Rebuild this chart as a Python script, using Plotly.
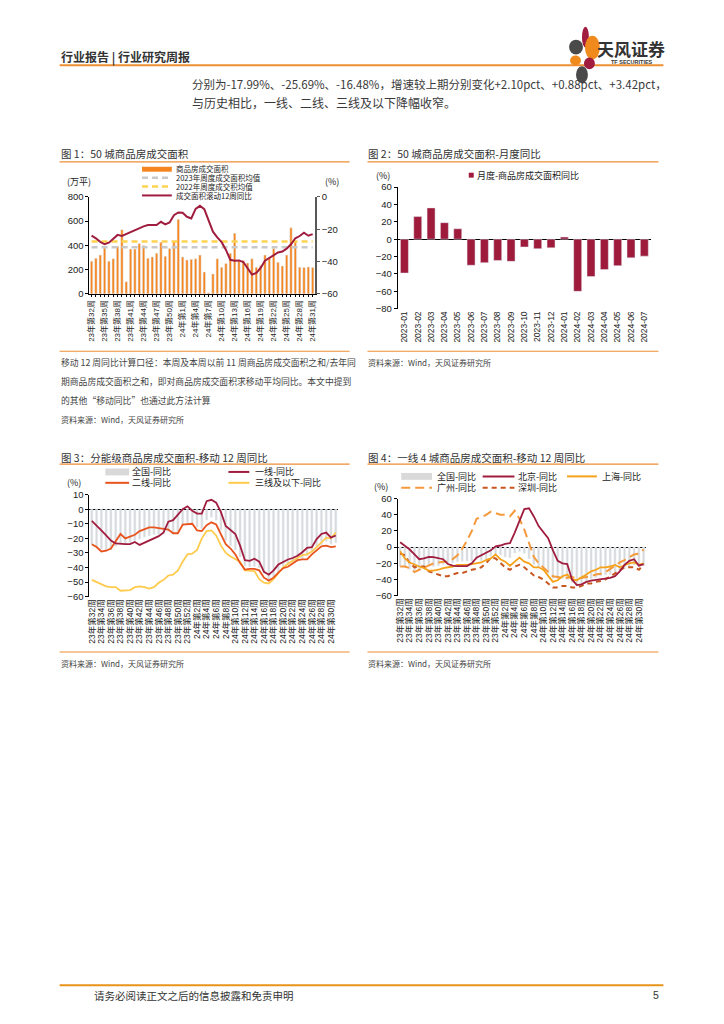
import plotly.graph_objects as go

W, H = 724, 1024
def px(x): return x / W
def py(y): return 1 - y / H

# ---------------- data ----------------
weeks_2023 = list(range(32, 53))
weeks_2024 = list(range(1, 32))
week_labels = [f"23年第{w}周" for w in weeks_2023] + [f"24年第{w}周" for w in weeks_2024]

area_weekly = [270, 295, 320, 380, 270, 290, 390, 530, 100, 370, 370, 415, 400, 295, 305, 335,
               425, 310, 375, 430, 615, 305, 280, 285, 290, 320, 180, 10, 165, 290, 220, 250,
               335, 500, 280, 275, 255, 290, 220, 235, 320, 295, 375, 260, 230, 320, 545, 430,
               220, 218, 222, 218]
avg_2023 = 385
avg_2022 = 432
yoy_rolling12 = [-24, -25.6, -27.8, -29.3, -28.3, -25.6, -23.5, -24.2, -23, -21.5, -20.5, -19.2,
                 -18.2, -17.4, -17.4, -17.4, -15.4, -17, -15.8, -11.3, -9.6, -9.8, -12.3, -13.3,
                 -7.4, -5.5, -7.6, -14.3, -21.5, -25, -28, -32.8, -38.9, -39.5, -39.3, -40.3,
                 -44, -48.1, -47.1, -44, -39.5, -37.9, -35.8, -34.4, -33.8, -32, -29.3, -25.6,
                 -24.2, -22.1, -24, -23]

months = ["2023-01", "2023-02", "2023-03", "2023-04", "2023-05", "2023-06", "2023-07",
          "2023-08", "2023-09", "2023-10", "2023-11", "2023-12", "2024-01", "2024-02",
          "2024-03", "2024-04", "2024-05", "2024-06", "2024-07"]
monthly_yoy = [-39, 26, 36, 19, 12, -30, -27, -24.5, -25.5, -9, -11, -10, 2.5, -60, -43, -35,
               -30.5, -21.5, -19.5]

national_yoy = [-24, -25.5, -27.5, -29, -28, -25.5, -23.5, -24, -23, -21.5, -20.5, -19.2,
                -18.2, -17.4, -17.4, -17.4, -15.4, -17, -15.8, -11.3, -9.6, -9.8, -12.3, -13.3,
                -7.4, -5.5, -7.6, -14.3, -21.5, -25, -28, -32.8, -38.9, -39.5, -39.3, -40.3,
                -44, -48, -47, -44, -39.5, -37.9, -35.8, -34.4, -33.8, -32, -29.3, -25.6,
                -24.2, -22.1, -24, -23]
tier1_yoy = [-8, -11, -14.5, -18, -21.5, -23.5, -24, -24, -24, -22.5, -24.5, -23, -21.5, -20,
             -18.5, -16, -8.5, -7.5, -4, 0, 2, -1, -3, -3, 5.5, 6.5, 4.5, -2, -11.5, -14, -17,
             -25, -35, -35.5, -34, -36, -43, -45, -42, -38, -36, -34.5, -33.5, -32, -29.5,
             -26.5, -26, -20.5, -17, -16, -19.5, -18]
tier2_yoy = [-24, -26, -29, -28.5, -27, -22, -17, -20, -18.5, -17.5, -15, -14, -12.5, -12.5,
             -13, -13.5, -14, -16.5, -16.5, -10.5, -10, -10, -14.5, -15, -11, -9, -10.5, -17,
             -24, -27, -31, -37, -41.5, -41, -41, -42, -47, -49, -47, -43.5, -40.5, -39.5, -37,
             -35, -34.5, -34.5, -31, -28, -25.5, -25, -26, -25.5]
tier3_yoy = [-48.5, -50, -52, -53, -53.5, -53.5, -56, -55.5, -55.5, -53.5, -53, -53.5, -54.5,
             -53.5, -50.5, -48.5, -45.5, -45, -42, -36, -31, -30.5, -28, -20, -15, -14.5, -18,
             -25, -30, -32.5, -34, -36, -42, -42.5, -42.5, -48, -50.5, -51, -48, -44, -40,
             -37.5, -35.5, -33, -31.5, -31, -29, -26, -23, -19.5, -20, -16]

beijing_yoy = [6, 2, -3, -9, -15, -14, -12, -12.5, -14, -15, -21, -23, -23.5, -23.5, -23.5, -20,
               -13, -10, -7, -4, 1, 2, 4, 5, 18, 33, 47, 48, 38, 26, 18, 11, -4, -17, -20, -21,
               -40, -47, -46, -43, -41.5, -40.5, -40, -39, -38, -36, -30, -22, -17, -15, -23, -21]
shanghai_yoy = [-5, -14, -19, -22, -24, -26, -29, -29, -28, -26, -25, -24, -22, -22, -22, -21,
                -20, -19, -16, -14, -9, -15, -18, -23, -18, -13, -18, -20, -25, -25, -28, -35,
                -43, -41, -36, -34, -40, -41, -38, -34, -30, -28, -25, -25, -24, -22, -25, -22,
                -20, -19, -22, -20]
guangzhou_yoy = [-24, -24, -26, -31, -28, -25, -22, -20, -19, -18, -18, -15, -10, -2, 8, 20, 35,
                 37, 40, 44, 42, 40, 40, 38, 45, 35, 22, 5, -12, -20, -25, -30, -36, -37, -38,
                 -38, -37, -39, -38, -37, -36, -34, -33, -31, -27, -22, -19, -16, -12, -9, -8, -3]
shenzhen_yoy = [-8, -10, -20, -25, -24, -24, -30, -32, -34, -36, -36, -34, -32, -32, -30, -28,
                -27, -25, -20, -13, -14, -20, -25, -28, -24, -22, -25, -30, -35, -37, -40, -45,
                -50, -50, -48, -48, -50, -50, -48, -45, -45, -43, -42, -40, -36, -32, -28, -25,
                -25, -25, -28, -22]

# ---------------- styles ----------------
CJK = "Noto Sans CJK SC"
NUM = "Liberation Sans, Noto Sans CJK SC"
ORANGE_RULE = "#EE8E35"
BAR_ORANGE = "#F5861F"
CRIMSON = "#A11D3F"
GRAY_BAR = "#D9D9D9"
RED_ORANGE = "#E8541E"
YELLOW = "#FFCB4C"
SH_ORANGE = "#F5A21A"
GZ_ORANGE = "#F59A3C"
SZ_BROWN = "#C8561E"

fig = go.Figure()

# Chart 1
fig.add_trace(go.Bar(x=week_labels, y=area_weekly, marker_color=BAR_ORANGE, width=0.55,
                     xaxis="x", yaxis="y"))
fig.add_trace(go.Scatter(x=week_labels, y=[avg_2023] * len(week_labels), mode="lines",
                         line=dict(color="#C9C9C9", width=2.5, dash="6px,4px"), xaxis="x", yaxis="y"))
fig.add_trace(go.Scatter(x=week_labels, y=[avg_2022] * len(week_labels), mode="lines",
                         line=dict(color="#FFD24F", width=2.5, dash="6px,4px"), xaxis="x", yaxis="y"))
fig.add_trace(go.Scatter(x=week_labels, y=yoy_rolling12, mode="lines",
                         line=dict(color=CRIMSON, width=2), xaxis="x", yaxis="y5"))

# Chart 2
fig.add_trace(go.Bar(x=months, y=monthly_yoy, marker_color="#9E1B3C", width=0.6,
                     xaxis="x2", yaxis="y2"))

# Chart 3
fig.add_trace(go.Bar(x=week_labels, y=national_yoy, marker_color=GRAY_BAR, width=0.45,
                     xaxis="x3", yaxis="y3"))
for ys, c in [(tier3_yoy, YELLOW), (tier2_yoy, RED_ORANGE), (tier1_yoy, CRIMSON)]:
    fig.add_trace(go.Scatter(x=week_labels, y=ys, mode="lines", line=dict(color=c, width=1.8),
                             xaxis="x3", yaxis="y3"))

# Chart 4
fig.add_trace(go.Bar(x=week_labels, y=national_yoy, marker_color=GRAY_BAR, width=0.45,
                     xaxis="x4", yaxis="y4"))
fig.add_trace(go.Scatter(x=week_labels, y=guangzhou_yoy, mode="lines",
                         line=dict(color=GZ_ORANGE, width=2, dash="9px,5px"), xaxis="x4", yaxis="y4"))
fig.add_trace(go.Scatter(x=week_labels, y=shenzhen_yoy, mode="lines",
                         line=dict(color=SZ_BROWN, width=2, dash="5px,4px"), xaxis="x4", yaxis="y4"))
fig.add_trace(go.Scatter(x=week_labels, y=shanghai_yoy, mode="lines",
                         line=dict(color=SH_ORANGE, width=1.8), xaxis="x4", yaxis="y4"))
fig.add_trace(go.Scatter(x=week_labels, y=beijing_yoy, mode="lines",
                         line=dict(color=CRIMSON, width=1.8), xaxis="x4", yaxis="y4"))

tick1 = [lab if i % 3 == 0 else "" for i, lab in enumerate(week_labels)]
tick2 = [lab if i % 2 == 0 else "" for i, lab in enumerate(week_labels)]

def xcat(domain, anchor, ticktext, size, ticks="outside", showline=True):
    return dict(domain=domain, anchor=anchor, type="category", tickmode="array",
                tickvals=week_labels, ticktext=ticktext, tickangle=-90,
                tickfont=dict(family=NUM, size=size, color="#222"),
                ticks=ticks, ticklen=2, tickcolor="#000", showline=showline,
                linecolor="#000", linewidth=1, showgrid=False, zeroline=False, fixedrange=True)

def yax(domain, anchor, rng, dtick, zeroline=False):
    return dict(domain=domain, anchor=anchor, range=rng, dtick=dtick, ticks="outside",
                ticklen=3, tickcolor="#000", showline=True, linecolor="#000", linewidth=1,
                showgrid=False, zeroline=zeroline, zerolinecolor="#000", zerolinewidth=1,
                tickfont=dict(family=NUM, size=9.5, color="#222"))

layout = dict(
    width=W, height=H, margin=dict(l=0, r=0, t=0, b=0), showlegend=False,
    paper_bgcolor="white", plot_bgcolor="rgba(0,0,0,0)", barmode="overlay",
    xaxis=xcat([px(87), px(314)], "y", tick1, 8),
    yaxis=yax([py(291), py(193)], "x", [0, 800], 200),
    yaxis5=dict(overlaying="y", side="right", anchor="x", range=[-60, 0], dtick=20,
                ticks="outside", ticklen=3, tickcolor="#595959", showline=True,
                linecolor="#595959", linewidth=2, showgrid=False, zeroline=False,
                tickfont=dict(family=NUM, size=9.5, color="#222")),
    xaxis2=dict(domain=[px(397.5), px(652.5)], anchor="y2", type="category", tickangle=-90,
                tickfont=dict(family=NUM, size=8.5, color="#222"), ticks="", showline=False,
                showgrid=False, zeroline=False),
    yaxis2=yax([py(306), py(183)], "x2", [-80, 60], 20, zeroline=True),
    xaxis3=xcat([px(87), px(337.5)], "y3", tick2, 8.5, ticks="", showline=False),
    yaxis3=yax([py(597), py(494)], "x3", [-60, 10], 10, zeroline=True),
    xaxis4=xcat([px(397.5), px(647.5)], "y4", tick2, 8.5, ticks="", showline=False),
    yaxis4=yax([py(596), py(498)], "x4", [-60, 60], 20, zeroline=True),
)
fig.update_layout(**layout)

# ---------------- page text ----------------
ann = []
def txt(x, y, s, size, color="#333", family=CJK, anchor="left"):
    xx = x - 2 if anchor == "left" else x
    ann.append(dict(x=px(xx), y=py(y), xref="paper", yref="paper", text=s, showarrow=False,
                    xanchor=anchor, yanchor="middle", font=dict(family=family, size=size, color=color)))

txt(58, 52, "<b>行业报告 | 行业研究周报</b>", 12, "#333")
txt(598, 43, "<b>天风证券</b>", 17, "#333")
txt(612, 57, "<b>TF SECURITIES</b>", 5.5, "#333", family="Liberation Sans")
txt(190, 79, "分别为-17.99%、-25.69%、-16.48%，增速较上期分别变化+2.10pct、+0.88pct、+3.42pct，", 11.5, "#3a3a3a")
txt(190, 98, "与历史相比，一线、二线、三线及以下降幅收窄。", 12, "#3a3a3a")

txt(58, 149, "图 1：50 城商品房成交面积", 10.5, "#333")
txt(368, 149, "图 2：50 城商品房成交面积-月度同比", 10.5, "#333")
txt(58, 456, "图 3：分能级商品房成交面积-移动 12 周同比", 10.5, "#333")
txt(368, 456, "图 4：一线 4 城商品房成交面积-移动 12 周同比", 10.5, "#333")

txt(58, 360, "移动 12 周同比计算口径：本周及本周以前 11 周商品房成交面积之和/去年同", 8.8, "#444")
txt(58, 380, "期商品房成交面积之和，即对商品房成交面积求移动平均同比。本文中提到", 8.8, "#444")
txt(58, 399, "的其他“移动同比”也通过此方法计算", 8.8, "#444")
txt(58, 418, "资料来源：Wind，天风证券研究所", 8, "#444")
txt(368, 360, "资料来源：Wind，天风证券研究所", 8, "#444")
txt(58, 665, "资料来源：Wind，天风证券研究所", 8, "#444")
txt(368, 665, "资料来源：Wind，天风证券研究所", 8, "#444")
txt(92, 1000, "请务必阅读正文之后的信息披露和免责申明", 10.5, "#333")
txt(663, 1000, "5", 10.5, "#333", family="Liberation Sans", anchor="right")

# axis unit labels
txt(64, 177, "(万平)", 9, "#222")
txt(324, 177, "(%)", 9, "#222")
txt(376, 171, "(%)", 9, "#222")
txt(64, 482, "(%)", 9, "#222")
txt(374, 486, "(%)", 9, "#222")

# legends text
txt(174, 164.5, "商品房成交面积", 7.5, "#222")
txt(174, 173.5, "2023年周度成交面积均值", 7.5, "#222")
txt(174, 182.5, "2022年周度成交积均值", 7.5, "#222")
txt(174, 191.5, "成交面积滚动12周同比", 7.5, "#222")
txt(477, 171, "月度-商品房成交面积同比", 9, "#222")
txt(130, 471, "全国-同比", 9, "#222")
txt(254, 471, "一线-同比", 9, "#222")
txt(130, 482, "二线-同比", 9, "#222")
txt(254, 482, "三线及以下-同比", 9, "#222")
txt(437, 475.5, "全国-同比", 9, "#222")
txt(519, 475.5, "北京-同比", 9, "#222")
txt(603, 475.5, "上海-同比", 9, "#222")
txt(437, 487, "广州-同比", 9, "#222")
txt(519, 487, "深圳-同比", 9, "#222")

# ---------------- shapes ----------------
shp = []
def hline(x0, x1, y, color, width=1, dash=None):
    d = dict(type="line", xref="paper", yref="paper", x0=px(x0), x1=px(x1), y0=py(y), y1=py(y),
             line=dict(color=color, width=width))
    if dash:
        d["line"]["dash"] = dash
    shp.append(d)
def rect(x0, x1, y0, y1, color):
    shp.append(dict(type="rect", xref="paper", yref="paper", x0=px(x0), x1=px(x1), y0=py(y1), y1=py(y0),
                    fillcolor=color, line=dict(width=0)))
def ell(x0, x1, y0, y1, color):
    shp.append(dict(type="circle", xref="paper", yref="paper", x0=px(x0), x1=px(x1), y0=py(y1), y1=py(y0),
                    fillcolor=color, line=dict(width=0)))

hline(57, 665, 60, ORANGE_RULE, 2)
hline(57, 349, 157.5, ORANGE_RULE, 1.2)
hline(367, 660, 157.5, ORANGE_RULE, 1.2)
hline(57, 349, 349, ORANGE_RULE, 1.2)
hline(367, 660, 349, ORANGE_RULE, 1.2)
hline(57, 349, 463, ORANGE_RULE, 1.2)
hline(367, 660, 463, ORANGE_RULE, 1.2)
hline(57, 349, 653, ORANGE_RULE, 1.2)
hline(367, 660, 653, ORANGE_RULE, 1.2)
hline(57, 665, 990, "#E8941A", 2)

# logo petals
ell(583, 590, 21, 42, CRIMSON)
ell(570, 584, 34, 49, "#4A4A4A")
ell(586, 601, 30, 54, "#F08A1C")
ell(571, 582, 50, 60, "#F08A1C")
ell(585, 596, 52, 64, CRIMSON)
ell(577, 589, 61, 78, "#4A4A4A")

# legend swatches chart 1
rect(140, 170, 162.5, 167.5, BAR_ORANGE)
hline(140, 170, 173.5, "#C9C9C9", 2.5, "6px,4px")
hline(140, 170, 182.5, "#FFD24F", 2.5, "6px,4px")
hline(140, 170, 191.5, CRIMSON, 2)
# chart 2
rect(469, 474, 168.5, 173.5, "#9E1B3C")
# chart 3
rect(103, 127, 467.5, 474.5, GRAY_BAR)
hline(227, 248, 471, CRIMSON, 2)
hline(103, 127, 482, RED_ORANGE, 2)
hline(227, 248, 482, YELLOW, 2)
# chart 4
rect(401, 432, 472, 479, GRAY_BAR)
hline(483, 515, 475.5, CRIMSON, 2)
hline(568, 598, 475.5, SH_ORANGE, 2)
hline(401, 432, 487, GZ_ORANGE, 2, "9px,5px")
hline(483, 515, 487, SZ_BROWN, 2, "5px,4px")

fig.update_layout(annotations=ann, shapes=shp)

fig.write_html("out.html", config={"displayModeBar": False},
               post_script="document.body.style.margin='0';")
